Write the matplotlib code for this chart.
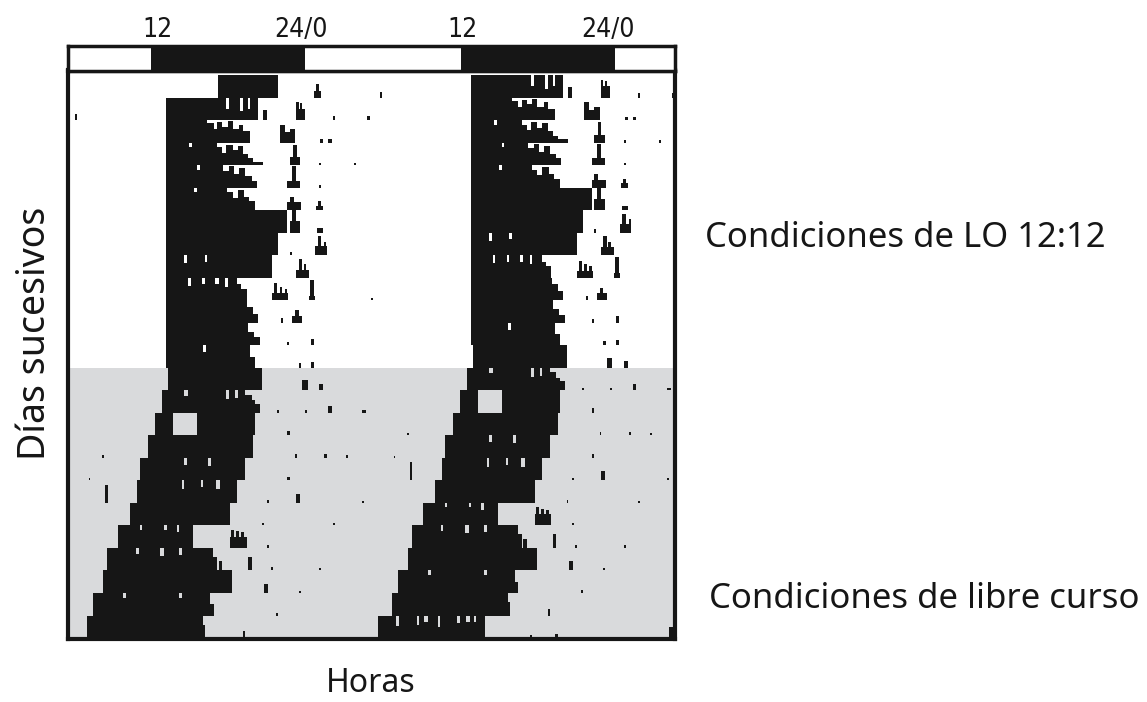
import matplotlib.pyplot as plt

# light schedule shown on the bar above the actogram (hours on the x axis)
dark_phases = [(6.4, 18.5), (30.8, 42.9)]
clock_ticks = [6.85, 18.2, 30.9, 42.4]
clock_labels = ["12", "24/0", "12", "24/0"]

# first day of constant darkness (free running)
dd_start = 13

# main activity bout per day (onset, offset in hours)
onset = [11.65, 7.56, 7.56, 7.56, 7.56, 7.56, 7.56, 7.56, 7.56, 7.56,
         7.56, 7.56, 7.56, 7.72, 7.24, 6.69, 6.14, 5.51, 5.28, 4.72,
         3.78, 2.91, 2.60, 1.81, 1.34, 0.24]
offset = [16.14, 14.80, 10.80, 11.57, 12.05, 12.36, 17.09, 16.40, 15.90, 13.15,
          13.94, 14.00, 14.20, 15.10, 13.80, 14.57, 14.41, 13.78, 13.15, 12.60,
          9.69, 11.26, 12.76, 11.02, 10.47, 8.66]

# smaller bouts per day: (start, end, height as fraction of the row)
bouts = [
    [(16.0, 16.4, 1.0), (19.2, 19.8, 0.3), (19.4, 19.6, 0.6)],
    [(0.4, 0.55, 0.25), (15.2, 15.5, 0.45), (17.8, 18.0, 0.8), (18.0, 18.5, 0.5),
     (18.1, 18.3, 0.75), (20.7, 20.9, 0.2), (23.4, 23.6, 0.2)],
    [(10.8, 11.3, 0.85), (11.3, 11.6, 0.6), (11.6, 12.0, 0.9), (12.0, 12.4, 0.7),
     (12.4, 12.8, 0.95), (12.8, 13.3, 0.6), (13.3, 13.6, 0.8), (13.6, 14.2, 0.5),
     (16.5, 16.9, 0.8), (16.9, 17.3, 0.45), (17.3, 17.7, 0.6), (19.7, 19.9, 0.15),
     (20.3, 20.6, 0.15)],
    [(11.57, 12.0, 0.8), (12.0, 12.3, 0.55), (12.3, 12.8, 0.9), (12.8, 13.2, 0.65),
     (13.2, 13.6, 0.85), (13.6, 14.0, 0.5), (14.0, 14.4, 0.3), (14.4, 15.2, 0.15),
     (17.3, 18.1, 0.35), (17.55, 17.85, 0.9), (19.6, 19.75, 0.1), (22.4, 22.55, 0.1)],
    [(12.05, 12.5, 0.75), (12.5, 12.9, 0.95), (12.9, 13.3, 0.6), (13.3, 13.8, 0.85),
     (13.8, 14.3, 0.5), (14.3, 14.7, 0.3), (17.1, 18.1, 0.3), (17.5, 17.8, 0.95),
     (19.6, 19.75, 0.1)],
    [(12.36, 12.8, 0.8), (12.8, 13.2, 0.55), (13.2, 13.7, 0.9), (13.7, 14.1, 0.6),
     (14.1, 14.6, 0.4), (17.1, 18.2, 0.35), (17.3, 17.6, 0.6), (19.4, 19.9, 0.2),
     (19.55, 19.75, 0.4)],
    [(17.3, 18.1, 0.5), (17.5, 17.8, 1.0), (19.45, 19.9, 0.2)],
    [(19.3, 20.2, 0.4), (19.5, 19.8, 0.85), (20.0, 20.15, 0.6), (17.3, 17.45, 0.15)],
    [(17.8, 18.8, 0.35), (18.0, 18.3, 0.85), (18.4, 18.6, 0.6)],
    [(13.15, 13.5, 0.7), (13.5, 13.9, 0.5), (15.9, 17.2, 0.3), (16.1, 16.3, 0.75),
     (16.5, 16.7, 0.6), (16.9, 17.1, 0.5), (18.9, 19.2, 0.9), (18.8, 19.3, 0.2),
     (23.7, 23.85, 0.1)],
    [(13.94, 14.4, 0.7), (14.4, 14.8, 0.4), (16.6, 16.8, 0.2), (17.5, 18.3, 0.3),
     (17.7, 18.0, 0.55)],
    [(14.0, 14.5, 0.6), (14.5, 14.96, 0.35), (17.1, 17.25, 0.15), (19.0, 19.2, 0.3)],
    [(14.2, 14.6, 0.5), (18.0, 18.2, 0.2), (19.0, 19.2, 0.25)],
    [(18.3, 18.7, 0.45), (19.6, 19.9, 0.3)],
    [(13.8, 14.3, 0.8), (14.3, 14.6, 0.55), (14.6, 14.96, 0.4), (16.3, 16.45, 0.12),
     (18.5, 18.65, 0.12), (20.3, 20.6, 0.3), (23.0, 23.3, 0.12)],
    [(17.1, 17.3, 0.2)],
    [(2.55, 2.7, 0.12), (17.7, 17.85, 0.15), (20.0, 20.2, 0.15), (21.7, 21.85, 0.12)],
    [(1.5, 1.6, 0.1), (17.1, 17.3, 0.15)],
    [(2.76, 2.95, 0.8), (17.8, 18.1, 0.4), (15.5, 15.7, 0.12), (23.0, 23.15, 0.1)],
    [(15.1, 15.25, 0.12), (20.7, 20.85, 0.1)],
    [(12.6, 13.9, 0.5), (12.7, 12.9, 0.8), (13.1, 13.3, 0.75), (13.5, 13.7, 0.7),
     (15.5, 15.7, 0.12)],
    [(11.26, 11.6, 0.6), (11.7, 12.0, 0.4), (14.0, 14.3, 0.6), (15.8, 15.95, 0.15),
     (19.6, 19.75, 0.12)],
    [(15.3, 15.6, 0.4), (18.0, 18.15, 0.1)],
    [(11.02, 11.3, 0.5), (16.2, 16.4, 0.12)],
    [(10.47, 10.65, 0.6), (13.6, 13.8, 0.3)],
    [(12.2, 12.4, 0.12), (14.2, 14.4, 0.2), (23.2, 23.7, 0.5)],
]

# pauses inside the main bout: (day, start, end, depth from the top of the row)
holes = [
    (1, 12.3, 12.5, 0.5), (1, 13.4, 13.6, 0.6), (1, 14.0, 14.2, 0.5),
    (3, 9.4, 9.6, 0.2), (4, 10.0, 10.2, 0.2), (5, 9.8, 10.0, 0.2),
    (8, 9.0, 9.2, 0.35), (8, 10.6, 10.8, 0.3),
    (9, 9.3, 9.5, 0.35), (9, 10.4, 10.6, 0.3), (9, 11.4, 11.7, 0.3), (9, 12.2, 12.4, 0.4),
    (12, 10.5, 10.7, 0.3),
    (14, 9.0, 9.3, 0.25), (14, 12.3, 12.5, 0.4), (14, 13.0, 13.2, 0.35),
    (15, 8.11, 10.0, 1.0),
    (17, 9.0, 9.2, 0.3), (17, 10.9, 11.1, 0.35),
    (18, 8.8, 9.0, 0.4), (18, 10.3, 10.5, 0.3), (18, 11.5, 11.8, 0.4),
    (20, 5.5, 5.7, 0.2), (20, 7.4, 7.6, 0.2), (20, 8.4, 8.6, 0.3),
    (21, 5.2, 5.4, 0.25), (21, 7.1, 7.4, 0.35), (21, 8.6, 8.8, 0.3),
    (23, 4.2, 4.4, 0.2), (23, 8.6, 8.8, 0.2),
    (25, 1.7, 1.9, 0.45), (25, 3.3, 3.5, 0.4), (25, 3.9, 4.2, 0.3), (25, 5.0, 5.15, 0.5),
    (25, 6.5, 6.7, 0.35), (25, 7.2, 7.5, 0.3), (25, 7.8, 8.0, 0.3),
]

n_rows = 25
ink = "#161616"
gray = "#d9dadc"

W, H = 1147, 702
fig = plt.figure(figsize=(W / 100, H / 100), dpi=100)


def box(x0, y0, x1, y1):
    return [x0 / W, 1 - y1 / H, (x1 - x0) / W, (y1 - y0) / H]


ax = fig.add_axes(box(67.5, 70.5, 675, 638.5))
bar_ax = fig.add_axes(box(67.5, 45.5, 675, 70.5))

ax.axhspan(dd_start, n_rows + 1, color=gray, zorder=0, lw=0)


def places(day):
    # double plot: day d on row d (0-24 h) and on row d-1 (24-48 h)
    out = []
    if day < n_rows:
        out.append((day, 0))
    if day >= 1:
        out.append((day - 1, 24))
    return out


for d in range(len(onset)):
    for row, shift in places(d):
        base = row + 1
        ax.broken_barh([(onset[d] + shift, offset[d] - onset[d])], (row, 1),
                       facecolors=ink, lw=0, zorder=2)
        for s, e, h in bouts[d]:
            ax.broken_barh([(s + shift, e - s)], (base - h, h),
                           facecolors=ink, lw=0, zorder=2)

for d, s, e, depth in holes:
    for row, shift in places(d):
        bg = gray if row >= dd_start else "white"
        ax.broken_barh([(s + shift, e - s)], (row, depth),
                       facecolors=bg, lw=0, zorder=3)

ax.set_xlim(-0.2, 47.64)
ax.set_ylim(25.02, -0.2)
ax.set_xticks([])
ax.set_yticks([])
for sp in ax.spines.values():
    sp.set_linewidth(3)
    sp.set_color(ink)
    sp.set_zorder(5)

for s, e in dark_phases:
    bar_ax.axvspan(s, e, color=ink, lw=0)
bar_ax.set_xlim(-0.2, 47.64)
bar_ax.set_ylim(0, 1)
bar_ax.set_yticks([])
bar_ax.xaxis.tick_top()
bar_ax.set_xticks(clock_ticks)
bar_ax.set_xticklabels(clock_labels, fontsize=19, family="DejaVu Sans",
                       fontstretch="condensed", color=ink)
bar_ax.tick_params(axis="x", length=0, pad=2)
for sp in bar_ax.spines.values():
    sp.set_linewidth(2.5)
    sp.set_color(ink)

font = ["Noto Sans", "DejaVu Sans"]
fig.text(35 / W, 1 - 333 / H, "Días sucesivos", rotation=90, ha="center",
         va="center", fontsize=27, family=font, color=ink)
fig.text(371 / W, 1 - 683 / H, "Horas", ha="center", va="center",
         fontsize=23, family=font, color=ink)
fig.text(705 / W, 1 - 238 / H, "Condiciones de LO 12:12", ha="left",
         va="center", fontsize=25, family=font, color=ink)
fig.text(709 / W, 1 - 599 / H, "Condiciones de libre curso", ha="left",
         va="center", fontsize=25, family=font, color=ink)

fig.savefig("out.png", dpi=100, facecolor="white")
